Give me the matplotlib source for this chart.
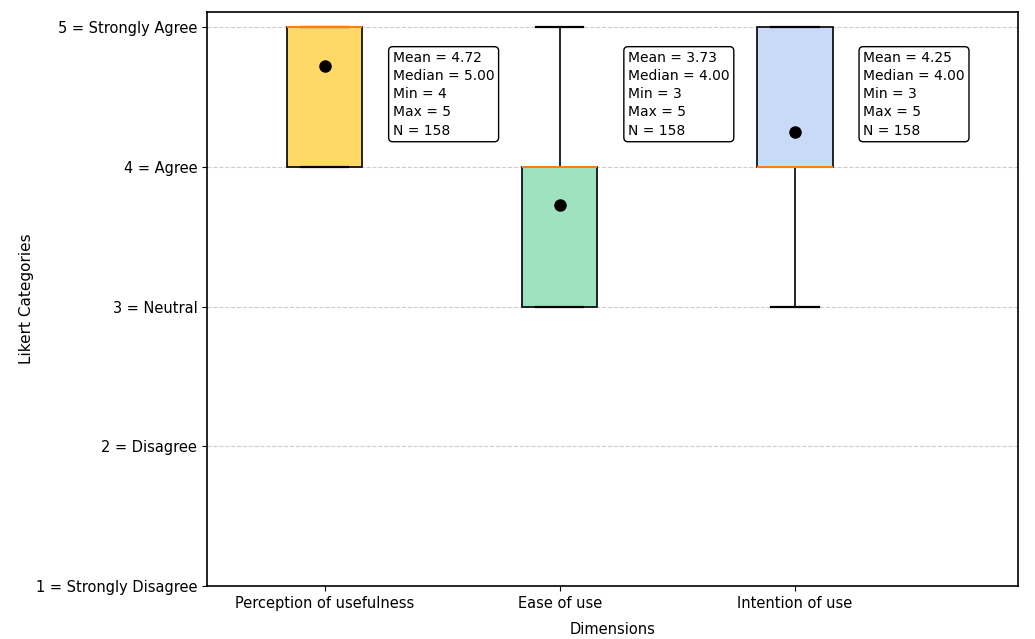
import matplotlib

matplotlib.use("Agg")
import matplotlib.pyplot as plt

dimensions = ["Perception of usefulness", "Ease of use", "Intention of use"]
q1 = [4, 3, 4]
medians = [5, 4, 4]
q3 = [5, 4, 5]
mins = [4, 3, 3]
maxs = [5, 5, 5]
means = [4.72, 3.73, 4.25]
counts = [158, 158, 158]
colors = ["#FFD966", "#9FE2BF", "#C9DAF8"]
likert_labels = ["1 = Strongly Disagree", "2 = Disagree", "3 = Neutral", "4 = Agree", "5 = Strongly Agree"]

stats = [
    {"label": d, "q1": a, "med": m, "q3": b, "whislo": lo, "whishi": hi, "mean": mu, "fliers": []}
    for d, a, m, b, lo, hi, mu in zip(dimensions, q1, medians, q3, mins, maxs, means)
]

fig, ax = plt.subplots(figsize=(10.35, 6.39), dpi=100)
positions = list(range(1, len(dimensions) + 1))
bp = ax.bxp(
    stats,
    positions=positions,
    widths=0.32,
    capwidths=0.2,
    patch_artist=True,
    showmeans=False,
    showfliers=False,
    medianprops={"color": "#ff7f0e", "linewidth": 1.5},
    boxprops={"edgecolor": "black", "linewidth": 1.2},
    whiskerprops={"color": "black", "linewidth": 1.2},
    capprops={"color": "black", "linewidth": 1.6},
)
for patch, c in zip(bp["boxes"], colors):
    patch.set_facecolor(c)

ax.plot(positions, means, "o", color="black", markersize=8, zorder=5)

for x, mu, md, lo, hi, n in zip(positions, means, medians, mins, maxs, counts):
    txt = f"Mean = {mu:.2f}\nMedian = {md:.2f}\nMin = {lo}\nMax = {hi}\nN = {n}"
    ax.text(x + 0.29, 4.83, txt, ha="left", va="top", fontsize=10, linespacing=1.38,
            bbox=dict(boxstyle="round,pad=0.3", facecolor="white", edgecolor="black", linewidth=1))

ax.set_xlim(0.5, 3.95)
ax.set_ylim(1, 5.107)
ax.set_yticks([1, 2, 3, 4, 5])
ax.set_yticklabels(likert_labels, fontsize=10.5)
ax.set_xticks(positions)
ax.set_xticklabels(dimensions, fontsize=10.5)
ax.yaxis.grid(True, linestyle="--", color="#cccccc", linewidth=0.8)
ax.set_axisbelow(True)
ax.set_xlabel("Dimensions", fontsize=10.5, labelpad=8)
ax.set_ylabel("Likert Categories", fontsize=11, labelpad=1)
for s in ax.spines.values():
    s.set_linewidth(1.2)

fig.subplots_adjust(left=0.2, right=0.984, top=0.981, bottom=0.083)
fig.savefig("out.png", dpi=100)
